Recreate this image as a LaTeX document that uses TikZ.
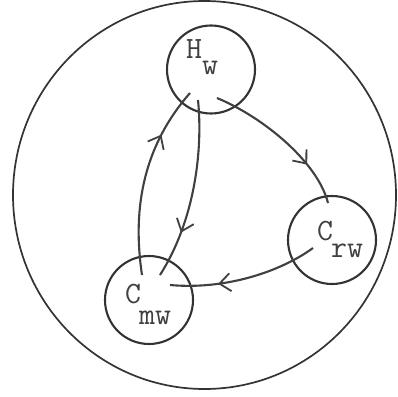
\documentclass[tikz,border=0pt]{standalone}
\usetikzlibrary{arrows.meta,decorations.markings}
\tikzset{
  px/.style={x=1pt,y=-1pt},
  state/.style={circle,draw=black!80,line width=2.1pt,minimum size=88pt,inner sep=0pt},
  lbl/.style={font=\ttfamily\fontsize{31}{31}\selectfont,text=black!75,inner sep=0pt,anchor=base west},
  flow/.style={draw=black!75,line width=2.1pt,
    postaction={decorate},
    decoration={markings,mark=at position #1 with {\arrow{Straight Barb[length=11pt,width=18pt,line width=1.8pt]}}}},
  flow/.default=0.7
}
\begin{document}
\begin{tikzpicture}[px]
\useasboundingbox (0,0) rectangle (398,396);
\draw[black!80,line width=1.7pt] (204.5,195) ellipse [x radius=191.5pt, y radius=194pt];
\node[state] (hw) at (211,69.5) {};
\node[state] (cmw) at (149,300) {};
\node[state] (crw) at (332,240) {};
\node[lbl] (thw) at (186,58) {H\raisebox{-17pt}{w}};
\node[lbl] (tcmw) at (125,303) {C\kern-2pt\raisebox{-21pt}{mw}};
\node[lbl] (tcrw) at (317,240) {C\kern-2pt\raisebox{-17pt}{rw}};
\coordinate (a1) at (217,98);
\coordinate (b1) at (328,203);
\coordinate (a2) at (198,100);
\coordinate (b2) at (160,275);
\coordinate (a3) at (142,275);
\coordinate (b3) at (190,93);
\coordinate (a4) at (313,248);
\coordinate (b4) at (170,285);
\path[flow=0.72] (a1) .. controls (265,118) and (318,163) .. (b1);
\path[flow=0.74] (a2) .. controls (203,150) and (195,220) .. (b2);
\path[flow=0.74] (a3) .. controls (133,215) and (140,150) .. (b3);
\path[flow=0.68] (a4) .. controls (280,272) and (225,290) .. (b4);
\end{tikzpicture}
\end{document}
